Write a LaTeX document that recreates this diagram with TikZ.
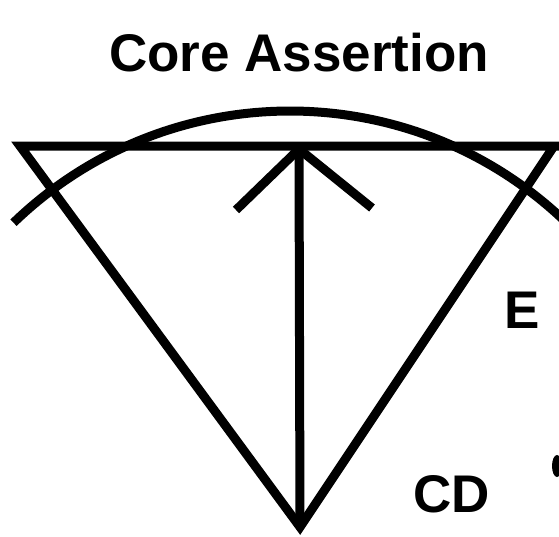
\documentclass[tikz,border=0pt]{standalone}
\usepackage{fontspec}
\setmainfont{Liberation Sans}
\usepackage{tikz}
\usetikzlibrary{positioning, calc}

\begin{document}
\begin{tikzpicture}[
    x=1pt, y=-1pt,
    label/.style={font=\fontsize{53}{60}\selectfont\bfseries, inner sep=0pt, anchor=base},
    stroke/.style={line width=9pt, line join=miter},
]
\useasboundingbox (0,0) rectangle (559,536);

% Title
\node[label] (title) at (299,71) {Core Assertion};

% Frame points
\coordinate (tl) at (20,146);
\coordinate (tr) at (570,146);
\coordinate (vr) at (554,146);
\coordinate (apex) at (300,527);
\coordinate (tip) at (299,149);
\coordinate (al) at (236,210);
\coordinate (ar) at (372,208);

% Cone and top line
\draw[stroke] (tr) -- (tl) -- (apex) -- (vr);

% Arc
\draw[stroke] (290,509) ++(-134:398) arc[start angle=-134, end angle=-45, radius=398];

% Arrow
\draw[stroke] (apex) -- (tip);
\draw[stroke] (al) -- (tip) -- (ar);

% Labels
\node[label] (e) at (522,328) {E};
\node[label] (cd) at (452,512) {CD};
\fill (557,466) ellipse (5 and 11);
\end{tikzpicture}
\end{document}
